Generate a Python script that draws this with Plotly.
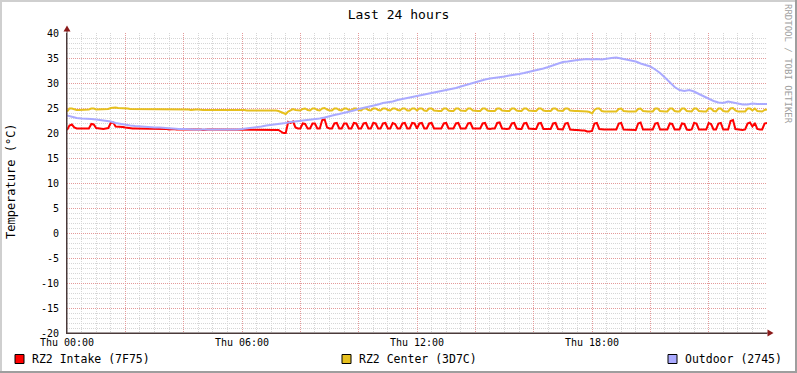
import numpy as np
import plotly.graph_objects as go

# ---------------- data ----------------
series_names = ["RZ2 Intake (7F75)", "RZ2 Center (3D7C)", "Outdoor (2745)"]
series_colors = ["#FF0000", "#E6C01E", "#AAAAFF"]

# 5-minute samples, one row per hour (Thu 00:00 .. Fri 00:00)
intake = [
    20.6, 21.5, 21.7, 21.1, 20.9, 20.9, 20.8, 20.9, 20.9, 20.9, 21.8, 21.7,
    21.0, 20.9, 20.9, 20.8, 20.9, 21.0, 22.0, 22.1, 21.3, 21.3, 21.2, 21.2,
    21.1, 21.0, 20.9, 20.9, 20.9, 20.9, 20.8, 20.9, 20.9, 20.8, 20.8, 20.9,
    20.8, 20.8, 20.8, 20.9, 20.8, 20.8, 20.7, 20.8, 20.8, 20.7, 20.7, 20.7,
    20.7, 20.7, 20.8, 20.7, 20.7, 20.7, 20.7, 20.7, 20.6, 20.7, 20.7, 20.7,
    20.7, 20.7, 20.7, 20.7, 20.7, 20.7, 20.7, 20.7, 20.7, 20.7, 20.7, 20.7,
    20.7, 20.7, 20.7, 20.7, 20.6, 20.7, 20.7, 20.7, 20.7, 20.7, 20.7, 20.7,
    20.7, 20.7, 20.7, 20.6, 20.3, 20.0, 20.0, 22.2, 22.0, 22.3, 21.1, 20.9,
    20.9, 21.9, 21.8, 20.9, 20.9, 21.9, 21.9, 20.9, 20.9, 22.6, 22.7, 21.1,
    20.9, 20.9, 21.9, 22.0, 20.9, 20.9, 21.9, 21.9, 20.9, 20.9, 22.0, 21.9,
    20.9, 20.9, 21.9, 22.0, 20.9, 20.9, 22.0, 21.9, 20.9, 20.9, 21.9, 22.0,
    20.9, 20.9, 22.0, 21.8, 20.9, 20.9, 21.9, 22.0, 20.9, 20.9, 22.0, 21.9,
    20.9, 21.9, 22.0, 20.9, 20.9, 21.9, 22.0, 20.9, 20.9, 20.9, 20.9, 21.9,
    22.0, 20.9, 20.9, 20.9, 21.9, 22.0, 20.9, 20.9, 20.9, 21.9, 22.0, 20.9,
    20.9, 20.9, 20.9, 21.9, 22.0, 20.9, 20.8, 20.9, 20.9, 22.0, 22.1, 20.9,
    20.8, 20.8, 20.9, 21.9, 22.0, 20.9, 20.8, 20.8, 21.9, 22.0, 20.9, 20.8,
    20.8, 20.8, 21.9, 22.0, 20.8, 20.8, 20.8, 20.8, 21.9, 22.0, 20.8, 20.7,
    20.7, 21.9, 22.0, 20.7, 20.6, 20.6, 20.6, 20.5, 20.5, 20.5, 20.3, 20.3,
    20.4, 21.9, 22.0, 20.8, 20.7, 20.7, 20.7, 20.7, 20.7, 20.7, 20.7, 21.9,
    22.0, 20.7, 20.7, 20.7, 20.7, 20.7, 20.6, 21.9, 22.1, 20.7, 20.7, 20.7,
    20.7, 20.7, 21.9, 22.0, 20.7, 20.7, 20.7, 20.7, 21.9, 21.8, 20.7, 20.7,
    20.7, 21.9, 21.8, 20.7, 20.6, 20.7, 22.0, 21.9, 20.7, 20.7, 20.7, 20.7,
    22.0, 21.8, 20.7, 20.7, 21.9, 22.0, 20.7, 20.7, 20.7, 22.4, 22.6, 20.8,
    20.7, 20.6, 20.6, 20.7, 21.9, 22.1, 21.3, 22.0, 20.8, 20.7, 20.7, 21.9,
    22.0,
]

center = [
    24.3, 24.9, 24.9, 24.7, 24.6, 24.6, 24.6, 24.6, 24.6, 24.7, 24.9, 24.9,
    24.7, 24.7, 24.7, 24.7, 24.7, 24.8, 25.0, 25.1, 25.1, 25.0, 25.0, 25.0,
    25.0, 24.9, 24.8, 24.8, 24.8, 24.8, 24.8, 24.7, 24.7, 24.7, 24.7, 24.7,
    24.7, 24.7, 24.7, 24.7, 24.7, 24.7, 24.7, 24.7, 24.7, 24.7, 24.7, 24.7,
    24.7, 24.7, 24.7, 24.6, 24.7, 24.7, 24.7, 24.6, 24.6, 24.6, 24.6, 24.6,
    24.6, 24.6, 24.7, 24.6, 24.6, 24.6, 24.6, 24.7, 24.6, 24.6, 24.6, 24.6,
    24.6, 24.6, 24.5, 24.5, 24.5, 24.5, 24.5, 24.5, 24.6, 24.5, 24.5, 24.5,
    24.5, 24.5, 24.5, 24.4, 24.2, 23.9, 23.8, 24.3, 24.6, 24.8, 24.6, 24.5,
    24.5, 24.8, 24.9, 24.6, 24.5, 24.9, 24.9, 24.6, 24.5, 24.9, 25.0, 24.7,
    24.5, 24.5, 24.9, 24.9, 24.6, 24.5, 24.9, 24.9, 24.6, 24.5, 24.9, 24.9,
    24.6, 24.5, 24.9, 24.9, 24.6, 24.5, 24.9, 24.9, 24.6, 24.5, 24.9, 24.9,
    24.6, 24.5, 24.9, 24.9, 24.6, 24.5, 24.9, 24.9, 24.5, 24.5, 24.9, 24.9,
    24.5, 24.9, 24.9, 24.5, 24.4, 24.9, 24.9, 24.5, 24.4, 24.4, 24.4, 24.9,
    24.9, 24.5, 24.4, 24.4, 24.9, 24.9, 24.5, 24.4, 24.4, 24.9, 24.9, 24.5,
    24.4, 24.4, 24.4, 24.9, 24.9, 24.5, 24.4, 24.4, 24.4, 24.9, 24.9, 24.5,
    24.4, 24.4, 24.4, 24.9, 24.9, 24.5, 24.4, 24.4, 24.9, 24.9, 24.5, 24.4,
    24.4, 24.4, 24.9, 24.9, 24.5, 24.4, 24.4, 24.4, 24.9, 24.9, 24.5, 24.4,
    24.4, 24.9, 24.9, 24.5, 24.4, 24.4, 24.4, 24.4, 24.4, 24.4, 24.3, 24.2,
    23.9, 24.6, 24.9, 24.9, 24.4, 24.3, 24.3, 24.3, 24.3, 24.3, 24.3, 24.8,
    24.9, 24.4, 24.3, 24.3, 24.3, 24.3, 24.3, 24.8, 24.9, 24.4, 24.3, 24.3,
    24.3, 24.3, 24.9, 24.9, 24.4, 24.3, 24.3, 24.3, 24.9, 24.9, 24.4, 24.3,
    24.3, 24.9, 24.9, 24.4, 24.3, 24.3, 24.9, 24.9, 24.4, 24.3, 24.3, 24.3,
    24.9, 24.9, 24.4, 24.3, 24.9, 24.9, 24.4, 24.3, 24.3, 24.9, 25.0, 24.5,
    24.3, 24.3, 24.3, 24.3, 24.9, 24.9, 24.5, 24.9, 24.4, 24.3, 24.3, 24.6,
    24.7,
]

# 10-minute samples
outdoor = [
    23.5, 23.2, 23.0, 22.9, 22.9, 22.8, 22.7, 22.6, 22.5, 22.3, 22.0, 21.8,
    21.7, 21.5, 21.4, 21.3, 21.3, 21.2, 21.1, 21.1, 21.0, 20.9, 20.9, 20.8,
    20.8, 20.7, 20.7, 20.7, 20.7, 20.6, 20.7, 20.7, 20.7, 20.6, 20.7, 20.7,
    20.8, 20.9, 21.1, 21.2, 21.3, 21.5, 21.6, 21.8, 21.9, 22.0, 22.2, 22.3,
    22.4, 22.5, 22.6, 22.8, 22.9, 23.1, 23.4, 23.6, 23.8, 24.0, 24.2, 24.5,
    24.8, 25.0, 25.2, 25.5, 25.7, 26.0, 26.1, 26.3, 26.6, 26.8, 27.0, 27.2,
    27.3, 27.5, 27.8, 27.9, 28.1, 28.3, 28.5, 28.7, 29.0, 29.3, 29.6, 29.9,
    30.2, 30.4, 30.7, 30.9, 31.0, 31.2, 31.3, 31.5, 31.6, 31.8, 32.0, 32.2,
    32.4, 32.7, 32.9, 33.2, 33.5, 33.9, 34.2, 34.3, 34.5, 34.6, 34.7, 34.8,
    34.7, 34.8, 34.7, 34.9, 35.0, 35.1, 34.9, 34.8, 34.6, 34.3, 33.9, 33.6,
    33.3, 32.7, 32.0, 31.1, 30.2, 29.2, 28.6, 28.4, 28.6, 28.3, 27.8, 27.3,
    26.8, 26.4, 26.1, 26.0, 26.3, 26.1, 25.8, 25.7, 25.7, 25.9, 25.8, 25.8,
    25.8,
]

x_tick_labels = {0: "Thu 00:00", 360: "Thu 06:00", 720: "Thu 12:00", 1080: "Thu 18:00"}
y_ticks = list(range(-20, 41, 5))

# ---------------- figure ----------------
W, H = 797, 373
L, R, T, B = 67, 30, 33, 40
PW, PH = W - L - R, H - T - B
MONO = "DejaVu Sans Mono"


def px(xp):
    return (xp - L) / PW


def py(yp):
    return (H - B - yp) / PH


t5 = np.arange(len(intake)) * 5
t10 = np.arange(len(outdoor)) * 10

fig = go.Figure()
for name, col, xs, ys in [
    (series_names[0], series_colors[0], t5, intake),
    (series_names[1], series_colors[1], t5, center),
    (series_names[2], series_colors[2], t10, outdoor),
]:
    fig.add_trace(go.Scatter(x=xs, y=ys, mode="lines", name=name,
                             line=dict(color=col, width=2), showlegend=False,
                             hoverinfo="skip"))

MAJ = "#E49A9A"
MIN = "#D6D6D6"
xt = list(range(0, 1441, 120))
fig.update_xaxes(
    range=[0, 1440], tickmode="array", tickvals=xt,
    ticktext=[x_tick_labels.get(v, "") for v in xt],
    showgrid=True, gridcolor=MAJ, griddash="1px,1px", gridwidth=1,
    minor=dict(tick0=0, dtick=30, showgrid=True, gridcolor=MIN,
               griddash="1px,1px", gridwidth=1),
    showline=True, linecolor="#4A3A3A", linewidth=1, ticks="",
    zeroline=False, tickfont=dict(family=MONO, size=10, color="#000"),
    ticklabelstandoff=0, fixedrange=True,
)
fig.update_yaxes(
    range=[-20, 40], tickmode="array", tickvals=y_ticks,
    ticktext=[str(v) for v in y_ticks],
    showgrid=True, gridcolor=MAJ, griddash="1px,1px", gridwidth=1,
    minor=dict(tick0=0, dtick=1, showgrid=True, gridcolor=MIN,
               griddash="1px,1px", gridwidth=1),
    showline=True, linecolor="#4A3A3A", linewidth=1, ticks="",
    zeroline=False, tickfont=dict(family=MONO, size=10, color="#000"),
    ticklabelstandoff=5, fixedrange=True,
)

shapes = []
# axis extensions + arrows
shapes.append(dict(type="line", xref="paper", yref="paper", x0=px(L), x1=px(L),
                   y0=py(H - B), y1=py(29), line=dict(color="#4A3A3A", width=1)))
shapes.append(dict(type="path", xref="paper", yref="paper",
                   path=f"M {px(L-3.5)} {py(31.5)} L {px(L+3.5)} {py(31.5)} L {px(L)} {py(25.5)} Z",
                   fillcolor="#8B1A1A", line=dict(width=0)))
shapes.append(dict(type="line", xref="paper", yref="paper", x0=px(L), x1=px(769),
                   y0=0, y1=0, line=dict(color="#4A3A3A", width=1)))
shapes.append(dict(type="path", xref="paper", yref="paper",
                   path=f"M {px(767.5)} {py(H-B-3.5)} L {px(767.5)} {py(H-B+3.5)} L {px(773.5)} {py(H-B)} Z",
                   fillcolor="#8B1A1A", line=dict(width=0)))
# image frame (shade)
shapes.append(dict(type="rect", xref="paper", yref="paper", x0=px(0), x1=px(2),
                   y0=py(H), y1=py(0), fillcolor="#CFCFCF", line=dict(width=0)))
shapes.append(dict(type="rect", xref="paper", yref="paper", x0=px(0), x1=px(W),
                   y0=py(2), y1=py(0), fillcolor="#CFCFCF", line=dict(width=0)))
shapes.append(dict(type="rect", xref="paper", yref="paper", x0=px(W - 2), x1=px(W),
                   y0=py(H), y1=py(0), fillcolor="#9E9E9E", line=dict(width=0)))
shapes.append(dict(type="rect", xref="paper", yref="paper", x0=px(0), x1=px(W),
                   y0=py(H), y1=py(H - 2), fillcolor="#9E9E9E", line=dict(width=0)))

annotations = []
# legend
legend_x = [15, 342, 668]
for name, col, lx in zip(series_names, series_colors, legend_x):
    shapes.append(dict(type="rect", xref="paper", yref="paper",
                       x0=px(lx), x1=px(lx + 9), y0=py(363.5), y1=py(354.5),
                       fillcolor=col, line=dict(color="#000", width=1)))
    annotations.append(dict(text=name, xref="paper", yref="paper", x=px(lx + 15),
                            y=py(359), xanchor="left", yanchor="middle",
                            showarrow=False,
                            font=dict(family=MONO, size=11.5, color="#000")))
# y axis title
annotations.append(dict(text="Temperature (°C)", xref="paper", yref="paper",
                        x=px(11), y=py(181), textangle=-90, showarrow=False,
                        xanchor="center", yanchor="middle",
                        font=dict(family=MONO, size=12, color="#000")))
# watermark
annotations.append(dict(text="RRDTOOL / TOBI OETIKER", xref="paper", yref="paper",
                        x=px(788), y=py(64), textangle=90, showarrow=False,
                        xanchor="center", yanchor="middle",
                        font=dict(family=MONO, size=9, color="#A0A0A0")))

fig.update_layout(
    width=W, height=H,
    margin=dict(l=L, r=R, t=T, b=B, autoexpand=False),
    paper_bgcolor="#FFFFFF", plot_bgcolor="#FFFFFF",
    title=dict(text="Last 24 hours", x=0.5, xanchor="center", xref="container",
               y=1 - 14 / H, yanchor="middle", yref="container",
               font=dict(family=MONO, size=13, color="#000")),
    shapes=shapes, annotations=annotations, showlegend=False,
)

fig.write_html(
    "out.html",
    config={"displayModeBar": False},
    post_script="document.body.style.margin='0px';document.body.style.padding='0px';document.body.style.overflow='hidden';",
)
